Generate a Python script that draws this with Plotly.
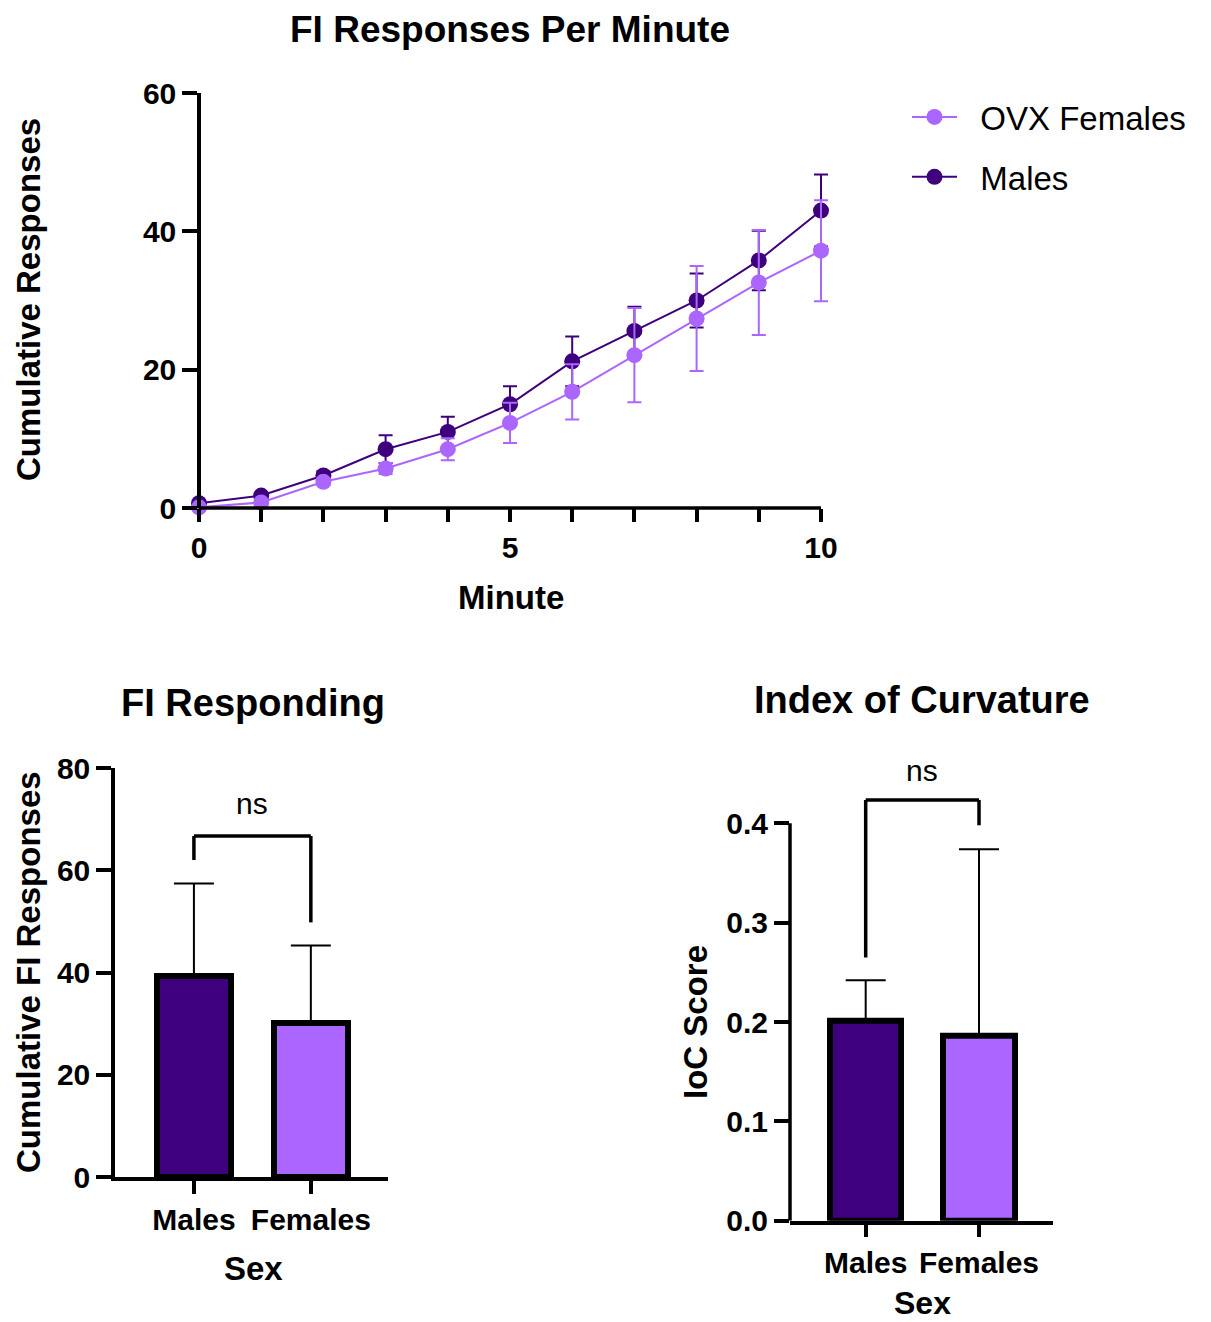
import plotly.graph_objects as go

# ---------------- data ----------------
minutes = [0, 1, 2, 3, 4, 5, 6, 7, 8, 9, 10]
males_mean = [0.7, 1.8, 4.7, 8.5, 11.0, 15.0, 21.2, 25.6, 30.0, 35.8, 43.0]
males_sem = [0.3, 0.4, 0.6, 2.0, 2.2, 2.6, 3.6, 3.5, 3.9, 4.3, 5.2]
females_mean = [0.1, 0.8, 3.8, 5.7, 8.5, 12.3, 16.8, 22.1, 27.4, 32.6, 37.2]
females_sem = [0.1, 0.3, 0.5, 0.8, 1.6, 2.9, 4.0, 6.8, 7.6, 7.6, 7.3]

sex = ["Males", "Females"]
fi_mean = [39.4, 30.2]
fi_sem = [18.0, 15.1]
ioc_mean = [0.201, 0.186]
ioc_sem = [0.041, 0.188]

# significance brackets: [left leg bottom, bracket top, right leg bottom]
fi_bracket = [62.0, 66.7, 49.8]
ioc_bracket = [0.265, 0.4235, 0.398]

# ---------------- style ----------------
PAGE_MARGIN = 8            # default body margin of the html page
W, H = 1211 - PAGE_MARGIN, 1322 - PAGE_MARGIN
DARK = "#3F007D"
LIGHT = "#AA66FF"
FONT = "Liberation Sans, Arial, Helvetica, sans-serif"
LW = 3.5
TICK_SIZE = 30


def px(x):
    return (x - PAGE_MARGIN) / W


def py(y):
    return 1 - (y - PAGE_MARGIN) / H


fig = go.Figure()

# ---- top line chart ----
fig.add_trace(go.Scatter(
    x=minutes, y=males_mean, name="\u00a0\u00a0Males", mode="lines+markers",
    line=dict(color=DARK, width=2), marker=dict(color=DARK, size=16),
    error_y=dict(type="data", array=males_sem, color=DARK, thickness=2, width=7),
    cliponaxis=False, xaxis="x", yaxis="y", legendrank=2, legendgroup="m",
))
fig.add_trace(go.Scatter(
    x=minutes, y=females_mean, name="\u00a0\u00a0OVX Females", mode="lines+markers",
    line=dict(color=LIGHT, width=2), marker=dict(color=LIGHT, size=16),
    error_y=dict(type="data", array=females_sem, color=LIGHT, thickness=2, width=7),
    cliponaxis=False, xaxis="x", yaxis="y", legendrank=1, legendgroup="f",
))

# ---- bottom-left bar chart ----
fig.add_trace(go.Bar(
    x=sex, y=fi_mean, width=0.63, showlegend=False,
    marker=dict(color=[DARK, LIGHT], line=dict(color="black", width=6)),
    error_y=dict(type="data", array=fi_sem, arrayminus=[0, 0], symmetric=False,
                 color="black", thickness=2, width=20),
    xaxis="x2", yaxis="y2",
))

# ---- bottom-right bar chart ----
fig.add_trace(go.Bar(
    x=sex, y=ioc_mean, width=0.63, showlegend=False,
    marker=dict(color=[DARK, LIGHT], line=dict(color="black", width=6)),
    error_y=dict(type="data", array=ioc_sem, arrayminus=[0, 0], symmetric=False,
                 color="black", thickness=2, width=20),
    xaxis="x3", yaxis="y3",
))

axis_common = dict(showgrid=False, zeroline=False, ticks="outside", tickwidth=LW,
                   tickcolor="black", linecolor="black", linewidth=LW, automargin=False,
                   tickfont=dict(family=FONT, size=TICK_SIZE, color="black", weight="bold"))

tick_text_x = [str(m) if m % 5 == 0 else "" for m in minutes]

# top chart: x range padded so that end caps/markers are not clipped
X_PAD = 0.15
PX_PER_MIN = (821 - 199) / 10.0
IOC_TOP = 0.47
IOC_PX = (1220.7 - 823.3) / 0.4

fig.update_layout(
    width=W, height=H, autosize=False,
    margin=dict(l=0, r=0, t=0, b=0, autoexpand=False),
    plot_bgcolor="white", paper_bgcolor="white",
    bargap=0,
    xaxis=dict(domain=[px(199 - X_PAD * PX_PER_MIN), px(821 + X_PAD * PX_PER_MIN)],
               range=[-X_PAD, 10 + X_PAD], tickvals=minutes,
               ticktext=tick_text_x, ticklen=13, showline=False, anchor="y",
               **axis_common),
    yaxis=dict(domain=[py(508), py(93)], range=[0, 60], tickvals=[0, 20, 40, 60],
               ticklen=15, showline=True, anchor="free", position=px(199), **axis_common),
    xaxis2=dict(domain=[px(115), px(388)], range=[-0.675, 1.66], type="category",
                ticklen=13, showline=True, anchor="y2", **axis_common),
    yaxis2=dict(domain=[py(1177), py(768)], range=[0, 80], tickvals=[0, 20, 40, 60, 80],
                ticklen=15, showline=True, anchor="x2", **axis_common),
    xaxis3=dict(domain=[px(790), px(1053)], range=[-0.668, 1.653], type="category",
                ticklen=13, showline=True, anchor="y3", **axis_common),
    yaxis3=dict(domain=[py(1220.7), py(1220.7 - IOC_TOP * IOC_PX)], range=[0, IOC_TOP],
                tickvals=[0, 0.1, 0.2, 0.3, 0.4], ticktext=["0.0", "0.1", "0.2", "0.3", "0.4"],
                ticklen=15, showline=False, anchor="x3", **axis_common),
    legend=dict(x=px(907), y=py(89), xanchor="left", yanchor="top",
                font=dict(family=FONT, size=33, color="black"),
                bgcolor="rgba(0,0,0,0)", itemwidth=45, tracegroupgap=14),
    showlegend=True,
)

# x-axis line of the top chart, from minute 0 to 10
fig.add_shape(type="line", xref="x", yref="y domain", x0=0, x1=10, y0=0, y1=0,
              line=dict(color="black", width=LW))
# y-axis line of the IoC chart, stopping at 0.4 like the original
fig.add_shape(type="line", xref="x3 domain", yref="y3", x0=0, x1=0, y0=0, y1=0.4,
              line=dict(color="black", width=LW))

# significance brackets
for xr, yr, b in (("x2", "y2", fi_bracket), ("x3", "y3", ioc_bracket)):
    for (x0, y0, x1, y1) in ((0, b[0], 0, b[1]), (0, b[1], 1, b[1]), (1, b[1], 1, b[2])):
        fig.add_shape(type="line", xref=xr, yref=yr, x0=x0, y0=y0, x1=x1, y1=y1,
                      line=dict(color="black", width=3.5))

annos = [
    dict(text="<b>FI Responses Per Minute</b>", x=px(510), y=py(30), size=37),
    dict(text="<b>FI Responding</b>", x=px(253), y=py(703), size=38),
    dict(text="<b>Index of Curvature</b>", x=px(922), y=py(700), size=38),
    dict(text="<b>Cumulative Responses</b>", x=px(28), y=py(300), size=33, angle=-90),
    dict(text="<b>Minute</b>", x=px(511), y=py(598), size=33),
    dict(text="<b>Cumulative FI Responses</b>", x=px(28), y=py(972), size=33, angle=-90),
    dict(text="<b>Sex</b>", x=px(253), y=py(1268), size=33),
    dict(text="<b>IoC Score</b>", x=px(695), y=py(1022), size=33, angle=-90),
    dict(text="<b>Sex</b>", x=px(922), y=py(1303), size=32),
]
for a in annos:
    fig.add_annotation(text=a["text"], x=a["x"], y=a["y"], xref="paper", yref="paper",
                       xanchor="center", yanchor="middle", showarrow=False,
                       textangle=a.get("angle", 0),
                       font=dict(family=FONT, size=a["size"], color="black"))

fig.add_annotation(text="ns", x=0.5, y=73.1, xref="x2", yref="y2", showarrow=False,
                   xanchor="center", yanchor="middle",
                   font=dict(family=FONT, size=30, color="black"))
fig.add_annotation(text="ns", x=0.5, y=0.4527, xref="x3", yref="y3", showarrow=False,
                   xanchor="center", yanchor="middle",
                   font=dict(family=FONT, size=30, color="black"))

fig.write_html("out.html")
